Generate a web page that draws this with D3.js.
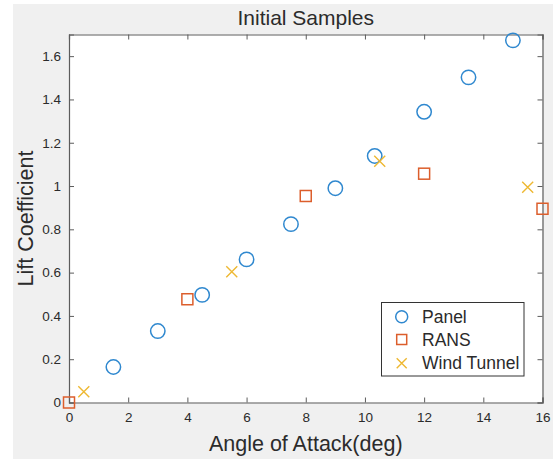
<!DOCTYPE html>
<html>
<head>
<meta charset="utf-8">
<script src="https://cdn.jsdelivr.net/npm/d3@7"></script>
<style>
  body { margin: 0; background: #fff; }
  text { font-family: 'Liberation Sans', Arial, sans-serif; fill: #2b2b2b; }
</style>
</head>
<body>
<div id="chart"></div>
<script>
// Samples
const panelX = [1.5, 3, 4.5, 6, 7.5, 9, 10.33, 12, 13.5, 15];
const panelY = [0.164, 0.330, 0.497, 0.661, 0.824, 0.99, 1.139, 1.343, 1.502, 1.673];
const ransX = [0, 4, 8, 12, 16];
const ransY = [0, 0.477, 0.954, 1.057, 0.895];
const windX = [0.5, 5.5, 10.5, 15.5];
const windY = [0.05, 0.604, 1.114, 0.994];
const xTicks = [0, 2, 4, 6, 8, 10, 12, 14, 16];
const yTicks = [0, 0.2, 0.4, 0.6, 0.8, 1, 1.2, 1.4, 1.6];
const seriesNames = ['Panel', 'RANS', 'Wind Tunnel'];
const colors = ['#2f88cf', '#dc5e2c', '#eeb832'];

const width = 560;
const height = 459;
const margin = { top: 34.5, right: 17.5, bottom: 56.5, left: 69 };
const axisColor = '#5c5c5c';

const svg = d3.select('#chart')
  .append('svg')
  .attr('width', width)
  .attr('height', height);

// figure background (gray panel, white strip on the edges)
svg.append('rect')
  .attr('x', 13).attr('y', 4)
  .attr('width', 540).attr('height', height - 4)
  .attr('fill', '#f0f0f0');

const x = d3.scaleLinear().domain([0, 16]).range([margin.left, width - margin.right]);
const y = d3.scaleLinear().domain([0, 1.7]).range([height - margin.bottom, margin.top]);

svg.append('rect')
  .attr('x', x(0)).attr('y', y(1.7))
  .attr('width', x(16) - x(0)).attr('height', y(0) - y(1.7))
  .attr('fill', '#fff');

const styleAxis = (g) => {
  g.select('.domain').attr('stroke', axisColor).attr('stroke-width', 1.2);
  g.selectAll('.tick line').attr('stroke', axisColor);
  g.selectAll('.tick text').style('font-size', '13.5px').attr('fill', '#333');
};

svg.append('g')
  .attr('transform', `translate(0,${y(0)})`)
  .call(d3.axisBottom(x).tickValues(xTicks).tickSize(-5).tickPadding(10).tickFormat((d) => String(d)))
  .call(styleAxis);
svg.append('g')
  .attr('transform', `translate(0,${y(1.7)})`)
  .call(d3.axisTop(x).tickValues(xTicks).tickSize(-5).tickFormat(''))
  .call(styleAxis);
svg.append('g')
  .attr('transform', `translate(${x(0)},0)`)
  .call(d3.axisLeft(y).tickValues(yTicks).tickSize(-5).tickPadding(8).tickFormat((d) => String(d)))
  .call(styleAxis);
svg.append('g')
  .attr('transform', `translate(${x(16)},0)`)
  .call(d3.axisRight(y).tickValues(yTicks).tickSize(-5).tickFormat(''))
  .call(styleAxis);

// markers
const drawCircle = (g, cx, cy, r, color) => {
  g.append('circle').attr('cx', cx).attr('cy', cy).attr('r', r)
    .attr('fill', 'none').attr('stroke', color).attr('stroke-width', 1.5);
};
const drawSquare = (g, cx, cy, s, color) => {
  g.append('rect').attr('x', cx - s / 2).attr('y', cy - s / 2)
    .attr('width', s).attr('height', s)
    .attr('fill', 'none').attr('stroke', color).attr('stroke-width', 1.5);
};
const drawCross = (g, cx, cy, s, color) => {
  g.append('path')
    .attr('d', `M${cx - s / 2},${cy - s / 2}L${cx + s / 2},${cy + s / 2}M${cx - s / 2},${cy + s / 2}L${cx + s / 2},${cy - s / 2}`)
    .attr('stroke', color).attr('stroke-width', 1.4).attr('fill', 'none');
};

const marks = svg.append('g');
panelX.forEach((d, i) => drawCircle(marks, x(d), y(panelY[i]), 7.2, colors[0]));
ransX.forEach((d, i) => drawSquare(marks, x(d), y(ransY[i]), 11, colors[1]));
windX.forEach((d, i) => drawCross(marks, x(d), y(windY[i]), 11, colors[2]));

// title and labels
svg.append('text')
  .attr('x', (x(0) + x(16)) / 2).attr('y', 25)
  .attr('text-anchor', 'middle')
  .style('font-size', '21px')
  .text('Initial Samples');
svg.append('text')
  .attr('x', (x(0) + x(16)) / 2).attr('y', 451)
  .attr('text-anchor', 'middle')
  .style('font-size', '21.5px')
  .text('Angle of Attack(deg)');
svg.append('text')
  .attr('transform', `translate(33,${(y(0) + y(1.7)) / 2}) rotate(-90)`)
  .attr('text-anchor', 'middle')
  .style('font-size', '21.5px')
  .text('Lift Coefficient');

// legend
const legend = svg.append('g');
legend.append('rect')
  .attr('x', 381.5).attr('y', 302.5)
  .attr('width', 142.5).attr('height', 73.5)
  .attr('fill', '#fff').attr('stroke', '#333').attr('stroke-width', 1);
const rowY = [316.7, 339.5, 363.3];
seriesNames.forEach((name, i) => {
  const cy = rowY[i];
  if (i === 0) drawCircle(legend, 401.7, cy, 6, colors[0]);
  if (i === 1) drawSquare(legend, 401.7, cy, 10, colors[1]);
  if (i === 2) drawCross(legend, 401.7, cy, 10, colors[2]);
  legend.append('text')
    .attr('x', 422).attr('y', cy + 6)
    .style('font-size', '17.5px')
    .text(name);
});
</script>
</body>
</html>
